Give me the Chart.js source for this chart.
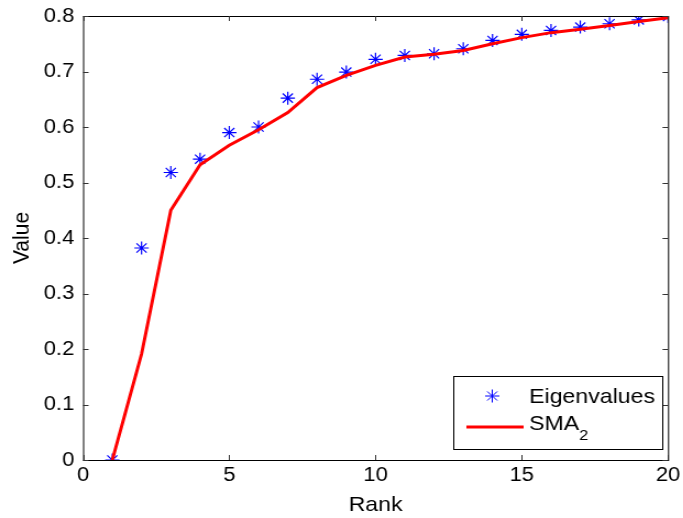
<!DOCTYPE html>
<html>
<head>
<meta charset="utf-8">
<script src="https://cdn.jsdelivr.net/npm/chart.js@4.4.1/dist/chart.umd.min.js"></script>
<style>
  html, body { margin: 0; padding: 0; background: #fff; overflow: hidden; }
  /* the reference is a bit stretched sideways, so draw narrower and widen it */
  #wrap { width: 621px; height: 518px; transform: scaleX(1.1); transform-origin: 0 0; }
</style>
</head>
<body>
<div id="wrap"><canvas id="chart" width="621" height="518"></canvas></div>
<script>
// values
const ranks = [1, 2, 3, 4, 5, 6, 7, 8, 9, 10, 11, 12, 13, 14, 15, 16, 17, 18, 19, 20]
const eigenvalues = [0, 0.382, 0.518, 0.542, 0.590, 0.600, 0.652, 0.686, 0.699, 0.722,
  0.729, 0.732, 0.741, 0.756, 0.767, 0.774, 0.780, 0.786, 0.793, 0.799]
const sma2 = [0, 0.191, 0.450, 0.532, 0.567, 0.595, 0.626, 0.671, 0.693, 0.711,
  0.726, 0.731, 0.738, 0.750, 0.761, 0.770, 0.776, 0.783, 0.790, 0.797]
const xTicks = [0, 5, 10, 15, 20]
const yTicks = [0, 0.1, 0.2, 0.3, 0.4, 0.5, 0.6, 0.7, 0.8]

const FONT = '"Liberation Sans", Arial, Helvetica, sans-serif'
const toXY = vals => vals.map((v, i) => ({ x: ranks[i], y: v }))

// box + inward ticks like matlab
const frame = {
  id: 'frame',
  afterDraw(chart) {
    const { ctx, chartArea: a, scales } = chart
    ctx.save()
    ctx.strokeStyle = '#000'
    ctx.lineWidth = 1
    ctx.strokeRect(a.left + 0.5, a.top + 0.5, a.right - a.left, a.bottom - a.top)
    ctx.strokeStyle = '#333'
    const len = 5
    xTicks.forEach(t => {
      const x = Math.round(scales.x.getPixelForValue(t)) + 0.5
      ctx.beginPath()
      ctx.moveTo(x, a.bottom); ctx.lineTo(x, a.bottom - len)
      ctx.moveTo(x, a.top); ctx.lineTo(x, a.top + len)
      ctx.stroke()
    })
    yTicks.forEach(t => {
      const y = Math.round(scales.y.getPixelForValue(t)) + 0.5
      ctx.beginPath()
      ctx.moveTo(a.left, y); ctx.lineTo(a.left + len, y)
      ctx.moveTo(a.right, y); ctx.lineTo(a.right - len, y)
      ctx.stroke()
    })
    ctx.restore()
  },
}

// legend box at lower right, SMA with subscript 2
const legendBox = {
  id: 'legendBox',
  afterDraw(chart) {
    const { ctx, chartArea: a } = chart
    const w = 190, h = 73
    const x0 = Math.round(a.right - 5.5 - w), y0 = Math.round(a.bottom - 11 - h)
    ctx.save()
    ctx.fillStyle = '#fff'
    ctx.fillRect(x0, y0, w, h)
    ctx.strokeStyle = '#000'
    ctx.lineWidth = 1
    ctx.strokeRect(x0 + 0.5, y0 + 0.5, w, h)

    // star marker
    const sx = x0 + 35.5, sy = y0 + 20
    ctx.strokeStyle = '#0000ff'
    ctx.lineWidth = 1
    ctx.beginPath()
    const r = 6.5, d = r * 0.7
    ctx.moveTo(sx - r, sy); ctx.lineTo(sx + r, sy)
    ctx.moveTo(sx, sy - r); ctx.lineTo(sx, sy + r)
    ctx.moveTo(sx - d, sy - d); ctx.lineTo(sx + d, sy + d)
    ctx.moveTo(sx - d, sy + d); ctx.lineTo(sx + d, sy - d)
    ctx.stroke()

    // red line
    const ly = y0 + 51
    ctx.strokeStyle = '#ff0000'
    ctx.lineWidth = 3
    ctx.beginPath()
    ctx.moveTo(x0 + 12, ly); ctx.lineTo(x0 + 64, ly)
    ctx.stroke()

    ctx.fillStyle = '#000'
    ctx.textBaseline = 'middle'
    ctx.textAlign = 'left'
    ctx.font = '21px ' + FONT
    ctx.fillText('Eigenvalues', x0 + 69, sy + 1)
    ctx.fillText('SMA', x0 + 69, ly - 3)
    const sw = ctx.measureText('SMA').width
    ctx.font = '15px ' + FONT
    ctx.fillText('2', x0 + 69 + sw, ly + 9)
    ctx.restore()
  },
}

new Chart(document.getElementById('chart'), {
  type: 'scatter',
  data: {
    datasets: [
      {
        label: 'Eigenvalues',
        data: toXY(eigenvalues),
        showLine: false,
        pointStyle: 'star',
        pointRadius: 6.5,
        borderColor: '#0000ff',
        backgroundColor: '#0000ff',
        borderWidth: 1.2,
        order: 2,
      },
      {
        label: 'SMA2',
        data: toXY(sma2),
        showLine: true,
        borderColor: '#ff0000',
        borderWidth: 3,
        pointRadius: 0,
        tension: 0,
        order: 1,
      },
    ],
  },
  options: {
    responsive: false,
    maintainAspectRatio: false,
    animation: false,
    layout: { padding: { top: 16, right: 13.7, left: 0, bottom: 0 } },
    plugins: {
      legend: { display: false },
      tooltip: { enabled: false },
    },
    scales: {
      x: {
        type: 'linear',
        min: 0,
        max: 20,
        afterBuildTicks: s => { s.ticks = xTicks.map(v => ({ value: v })) },
        afterFit: s => { s.height = 58; s.paddingLeft = 0; s.paddingRight = 0 },
        grid: { display: false, drawTicks: false },
        border: { display: false },
        ticks: { color: '#000', font: { family: FONT, size: 20 }, padding: 3, maxRotation: 0 },
        title: { display: true, text: 'Rank', color: '#000', font: { family: FONT, size: 21 }, padding: { top: 0, bottom: 0 } },
      },
      y: {
        type: 'linear',
        min: 0,
        max: 0.8,
        afterBuildTicks: s => { s.ticks = yTicks.map(v => ({ value: v })) },
        afterFit: s => { s.width = 75.5; s.paddingTop = 0; s.paddingBottom = 0 },
        grid: { display: false, drawTicks: false },
        border: { display: false },
        ticks: { color: '#000', font: { family: FONT, size: 20 }, padding: 8, callback: v => String(+v.toFixed(1)) },
        title: { display: true, text: 'Value', color: '#000', font: { family: FONT, size: 21 }, padding: { top: 8, bottom: 0 } },
      },
    },
  },
  plugins: [frame, legendBox],
})
</script>
</body>
</html>
